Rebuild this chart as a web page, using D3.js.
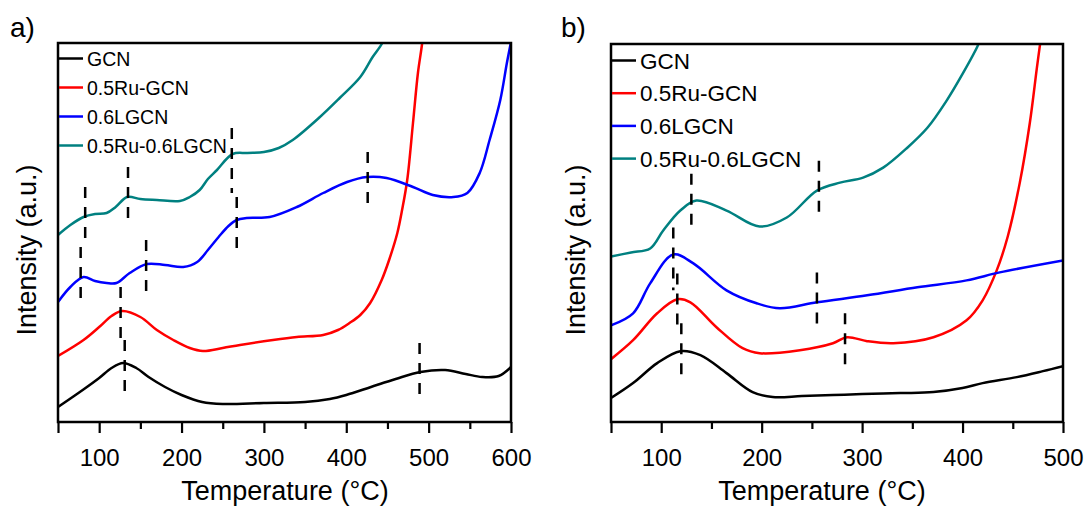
<!DOCTYPE html>
<html lang="en">
<head>
  <meta charset="UTF-8">
  <title>TPR profiles</title>
  <style>
    body {
      margin: 0;
      background: #fff;
    }
    svg {
      display: block;
      font-family: "Liberation Sans", Arial, sans-serif;
    }
    .curve {
      fill: none;
      stroke-width: 2.5px;
      stroke-linejoin: round;
    }
    .marker {
      stroke: #000;
      stroke-width: 2.5px;
      stroke-dasharray: 11 9;
    }
    .frame {
      fill: none;
      stroke: #000;
      stroke-width: 2.5px;
    }
  </style>
</head>
<body>
  <svg width="1088" height="506"></svg>
  <script src="https://d3js.org/d3.v7.min.js"></script>
  <script>
    // series names and colours (same in both panels)
    const seriesNames = ["GCN", "0.5Ru-GCN", "0.6LGCN", "0.5Ru-0.6LGCN"];
    const seriesColors = ["#000000", "#ff0000", "#0000ff", "#008080"];

    // intensity is in arbitrary units
    const yDomain = [0, 379];

    // panel a: [temperature, intensity]
    const gcnA = [[50,15],[80,32],[100,44],[115,54],[129,59],[145,54],[160,45],[180,35],[200,27],[225,20],
      [250,18],[300,19],[350,20],[380,23],[400,27],[430,35],[460,43],[490,50],[520,52],[545,48],[565,45],
      [585,46],[600,55]];
    const ruGcnA = [[50,66],[81,82],[100,95],[115,106],[128,111],[150,105],[170,92],[190,82],[210,74],[226,71],
      [250,74],[271,77],[311,82],[340,85],[372,87],[390,92],[404,99],[417,107],[429,119],[443,142],[452,162],
      [462,189],[468,213],[474,242],[481,299],[487,349],[492,378],[494,395]];
    const lgcnA = [[50,120],[65,135],[81,145],[95,141],[109,139],[121,139],[137,149],[158,158],[180,157],
      [202,155],[219,160],[232,172],[245,185],[257,196],[267,202],[279,204],[307,205],[340,215],[372,229],
      [401,240],[425,245],[449,244],[481,235],[505,227],[530,225],[547,229],[562,249],[574,282],[587,322],
      [595,359],[600,380]];
    const ruLgcnA = [[50,187],[65,197],[81,205],[95,208],[109,209],[120,215],[134,225],[150,223],[170,222],
      [198,221],[210,225],[222,232],[232,243],[243,252],[262,268],[280,269],[300,270],[318,274],[335,282],
      [368,305],[392,324],[417,345],[432,365],[443,378],[446,385]];

    // panel b
    const gcnB = [[50,24],[72,39],[96,59],[119,71],[139,67],[165,49],[191,30],[211,25],[240,26],[271,27],
      [300,28],[338,29],[371,30],[400,34],[420,39],[454,45],[480,51],[500,56]];
    const ruGcnB = [[50,63],[72,82],[96,109],[116,123],[129,120],[155,95],[181,74],[198,69],[238,72],[271,79],
      [285,85],[305,81],[331,79],[371,85],[404,102],[420,122],[434,152],[445,186],[457,240],[467,300],
      [474,355],[478,385]];
    const lgcnB = [[50,97],[72,109],[89,139],[112,168],[132,159],[165,132],[195,119],[218,114],[255,120],
      [305,127],[355,135],[404,142],[437,150],[500,162]];
    const ruLgcnB = [[50,166],[70,170],[89,174],[102,192],[119,212],[135,222],[165,212],[198,196],[225,205],
      [255,232],[278,240],[301,245],[321,255],[345,275],[365,295],[384,322],[400,349],[415,377],[418,385]];

    // dashed peak markers: [temperature, from, to]
    const markersA = [[77.5,115,175],[83,182,235],[126,75,135],[131,22,82],[135,195,255],[157,125,182],
      [261,229,294],[267,169,225],[426,212,270],[489,22,79]];
    const markersB = [[112,132,195],[116,92,149],[120,39,99],[130,190,249],[255,92,150],[257,204,262],
      [283,50,109]];

    // axis ticks
    const majorA = [50, 100, 200, 300, 400, 500, 600];
    const minorA = [150, 250, 350, 450, 550];
    const majorB = [50, 100, 200, 300, 400, 500];
    const minorB = [150, 250, 350, 450];

    const svg = d3.select("svg");

    function drawPanel(p) {
      const x = d3.scaleLinear().domain(p.xDomain).range([p.left, p.right]);
      const y = d3.scaleLinear().domain(yDomain).range([p.bottom, p.top]);
      const g = svg.append("g");

      g.append("clipPath").attr("id", "clip-" + p.id)
        .append("rect")
        .attr("x", p.left).attr("y", p.top)
        .attr("width", p.right - p.left).attr("height", p.bottom - p.top);

      const line = d3.line()
        .x(d => x(d[0]))
        .y(d => y(d[1]))
        .curve(d3.curveCatmullRom.alpha(0.5));

      g.append("g").attr("clip-path", "url(#clip-" + p.id + ")")
        .selectAll("path")
        .data(p.series)
        .join("path")
        .attr("class", "curve")
        .attr("stroke", (d, i) => seriesColors[i])
        .attr("d", line);

      // peak markers
      g.selectAll("line.marker")
        .data(p.markers)
        .join("line")
        .attr("class", "marker")
        .attr("x1", d => x(d[0])).attr("x2", d => x(d[0]))
        .attr("y1", d => y(d[2])).attr("y2", d => y(d[1]));

      // axes
      const major = g.append("g")
        .attr("transform", "translate(0," + p.bottom + ")")
        .call(d3.axisBottom(x).tickValues(p.major).tickSize(11).tickPadding(16)
          .tickFormat(d => d === 50 ? "" : d));
      const minor = g.append("g")
        .attr("transform", "translate(0," + p.bottom + ")")
        .call(d3.axisBottom(x).tickValues(p.minor).tickSize(7).tickFormat(""));
      [major, minor].forEach(a => {
        a.select(".domain").remove();
        a.selectAll(".tick line").attr("stroke-width", 2.2);
      });
      major.selectAll(".tick text")
        .attr("font-size", 24)
        .attr("font-family", "Liberation Sans, Arial, sans-serif")
        .attr("fill", "#000");

      g.append("rect")
        .attr("class", "frame")
        .attr("x", p.left).attr("y", p.top)
        .attr("width", p.right - p.left).attr("height", p.bottom - p.top);

      // legend
      const leg = g.append("g")
        .selectAll("g")
        .data(seriesNames)
        .join("g")
        .attr("transform", (d, i) => "translate(" + p.left + "," + (p.legendTop + i * p.legendStep) + ")");
      leg.append("line")
        .attr("x1", 1).attr("x2", 25)
        .attr("stroke", (d, i) => seriesColors[i])
        .attr("stroke-width", 2.5);
      leg.append("text")
        .attr("x", 29)
        .attr("dy", "0.36em")
        .attr("font-size", p.legendSize)
        .text(d => d);

      // titles
      g.append("text")
        .attr("x", p.xTitleX).attr("y", 500)
        .attr("text-anchor", "middle")
        .attr("font-size", 27)
        .text("Temperature (°C)");
      g.append("text")
        .attr("transform", "translate(" + p.yTitleX + "," + 250 + ") rotate(-90)")
        .attr("text-anchor", "middle")
        .attr("dy", "0.35em")
        .attr("font-size", 27)
        .text("Intensity (a.u.)");
      g.append("text")
        .attr("x", p.tagX).attr("y", 37)
        .attr("font-size", 28)
        .text(p.tag);
    }

    drawPanel({
      id: "a", tag: "a)", tagX: 10,
      left: 58, right: 511, top: 43, bottom: 422,
      xDomain: [50, 600],
      series: [gcnA, ruGcnA, lgcnA, ruLgcnA],
      markers: markersA, major: majorA, minor: minorA,
      legendTop: 58.5, legendStep: 29, legendSize: 19.5,
      xTitleX: 285, yTitleX: 27
    });

    drawPanel({
      id: "b", tag: "b)", tagX: 561,
      left: 611, right: 1063, top: 44, bottom: 422,
      xDomain: [50, 500],
      series: [gcnB, ruGcnB, lgcnB, ruLgcnB],
      markers: markersB, major: majorB, minor: minorB,
      legendTop: 60.5, legendStep: 32.7, legendSize: 22.5,
      xTitleX: 822, yTitleX: 576
    });
  </script>
</body>
</html>
